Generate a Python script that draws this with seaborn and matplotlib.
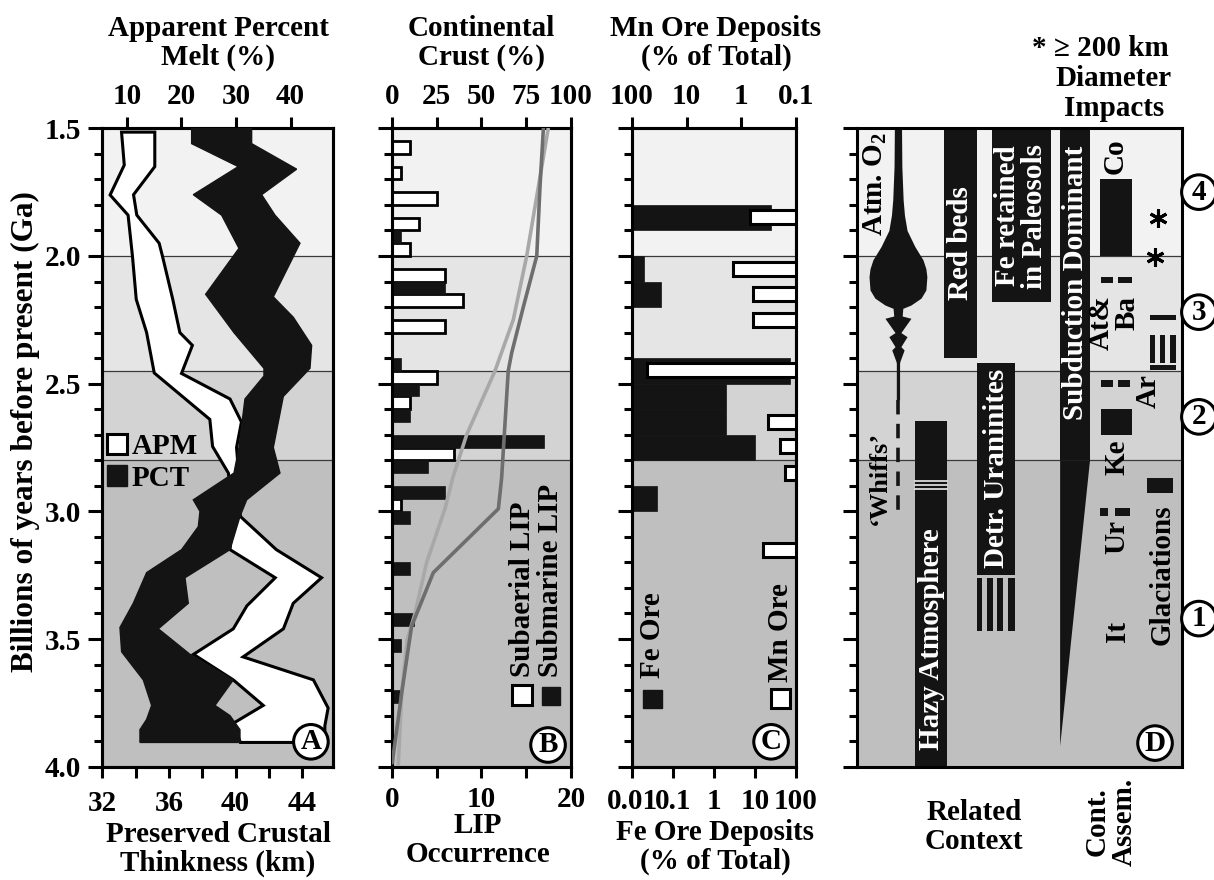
import numpy as np
import pandas as pd
import matplotlib
matplotlib.use("Agg")
import matplotlib.pyplot as plt
import seaborn as sns
from matplotlib.patches import Rectangle, Patch, Polygon
from matplotlib.ticker import FixedLocator

# ======================= DATA =======================
# Panel A - Apparent Percent Melt envelope (age Ga, %)
apm_left_age = [1.515, 1.644, 1.761, 1.84, 2.0, 2.17, 2.30, 2.458, 2.64, 2.746, 2.85, 3.02,
                3.15, 3.26, 3.37, 3.46, 3.56, 3.66, 3.76, 3.83, 3.905]
apm_left_pct = [9.0, 9.5, 6.9, 10.2, 11.0, 11.7, 13.6, 15.0, 25.2, 25.7, 28.6, 29.5,
                28.9, 37.2, 32.0, 29.5, 22.2, 29.5, 35.0, 29.5, 30.8]
apm_right_age = [1.515, 1.65, 1.76, 1.84, 1.95, 2.0, 2.17, 2.30, 2.35, 2.46, 2.56, 2.65, 2.75,
                 2.83, 3.02, 3.15, 3.26, 3.36, 3.46, 3.57, 3.66, 3.77, 3.84, 3.905]
apm_right_pct = [15.1, 15.1, 11.2, 11.8, 15.9, 16.5, 18.4, 19.7, 22.0, 20.0, 28.9, 31.0, 30.1,
                 30.4, 30.8, 37.4, 45.7, 40.5, 38.7, 31.3, 44.2, 46.9, 46.3, 46.3]
# Panel A - Preserved Crustal Thickness envelope (age Ga, km)
pct_left_age = [1.5, 1.56, 1.65, 1.76, 1.84, 1.97, 2.15, 2.30, 2.44, 2.47, 2.56, 2.75, 2.85,
                2.955, 3.0, 3.06, 3.15, 3.24, 3.36, 3.455, 3.55, 3.66, 3.76, 3.815, 3.855, 3.905]
pct_left_km = [37.36, 37.36, 40.16, 37.46, 39.16, 40.2, 38.2, 39.9, 41.7, 41.7, 40.56, 40.2, 39.9,
               37.46, 37.86, 37.76, 36.76, 34.66, 33.86, 33.06, 33.16, 34.46, 34.96, 34.66, 34.26, 34.26]
pct_right_age = [1.5, 1.56, 1.66, 1.76, 1.84, 1.95, 2.16, 2.24, 2.35, 2.44, 2.55, 2.75, 2.85,
                 2.955, 3.02, 3.15, 3.26, 3.36, 3.46, 3.56, 3.66, 3.76, 3.8, 3.855, 3.905]
pct_right_km = [40.96, 40.96, 43.66, 41.56, 42.36, 43.86, 42.26, 43.46, 44.56, 44.46, 42.86, 42.26, 42.66,
                40.66, 40.26, 39.66, 36.96, 37.16, 35.36, 37.26, 39.86, 38.76, 39.66, 40.26, 40.26]

# Panel B - LIP occurrence (bin centre age, count)
subaerial_age = [1.575, 1.675, 1.775, 1.875, 1.975, 2.075, 2.175, 2.275, 2.475, 2.575, 2.775, 2.975]
subaerial_n = [2, 1, 5, 3, 2, 6, 8, 6, 5, 2, 7, 1]
submarine_age = [1.925, 2.125, 2.425, 2.525, 2.625, 2.725, 2.825, 2.925, 3.025, 3.225, 3.425, 3.525, 3.725]
submarine_n = [1, 6, 1, 3, 2, 17, 4, 6, 2, 2, 2.5, 1, 1]
# Panel B - continental crust growth curves (%)
crust1_age = [1.5, 2.0, 2.25, 2.45, 2.70, 2.87, 2.99, 3.20, 3.40, 3.50, 3.71, 3.99]
crust1_pct = [87.3, 75.3, 67.8, 57.6, 41.8, 34.0, 29.7, 19.5, 13.0, 8.7, 5.6, 3.7]
crust2_age = [1.5, 1.73, 2.0, 2.2, 2.38, 2.45, 2.87, 2.99, 3.24, 3.45, 3.71, 3.985]
crust2_pct = [84.6, 82.7, 80.9, 73.4, 66.9, 65.0, 61.3, 59.5, 23.2, 11.1, 5.6, 0.3]

# Panel C - ore deposits (% of total)
fe_age = [1.85, 2.05, 2.15, 2.45, 2.55, 2.65, 2.75, 2.95]
fe_pct = [25, 0.02, 0.05, 70, 2, 2, 10, 0.04]
mn_age = [1.846, 2.05, 2.15, 2.25, 2.445, 2.65, 2.745, 2.85, 3.15]
mn_pct = [0.7, 1.4, 0.6, 0.62, 54, 0.32, 0.2, 0.16, 0.4]

# Panel D - Atm. O2 profile (age, relative half width)
o2_age = [1.50, 1.65, 1.78, 1.84, 1.90, 1.963, 2.015, 2.05, 2.081, 2.133, 2.165, 2.192, 2.205,
          2.235, 2.244, 2.30, 2.316, 2.355, 2.368, 2.413, 2.42, 2.563]
o2_half = [1.1, 1.2, 1.6, 2.0, 2.8, 5.2, 7.7, 8.6, 8.9, 8.6, 7.1, 4.0, 1.5,
           1.3, 4.0, 0.9, 2.8, 0.9, 1.9, 0.6, 0.5, 0.5]

# Axis tick labels
y_major = [1.5, 2.0, 2.5, 3.0, 3.5, 4.0]
y_labels = ['1.5', '2.0', '2.5', '3.0', '3.5', '4.0']
apm_ticks = [10, 20, 30, 40]
pct_ticks = [32, 34, 36, 38, 40, 42, 44]
pct_labels = ['32', '', '36', '', '40', '', '44']
lip_ticks = [0, 5, 10, 15, 20]
lip_labels = ['0', '', '10', '', '20']
crust_ticks = [0, 25, 50, 75, 100]
fe_ticks = [0.01, 0.1, 1, 10, 100]
fe_labels = ['0.01', '0.1', '1', '10', '100']
mn_ticks = [100, 10, 1, 0.1]
mn_labels = ['100', '10', '1', '0.1']

band_edges = [1.5, 2.0, 2.45, 2.8, 4.0]
band_colors = ['#f2f2f2', '#e5e5e5', '#d3d3d3', '#bfbfbf']

# ======================= STYLE =======================
sns.set_theme(style="ticks")
FS = 21
plt.rcParams['font.family'] = ['Liberation Serif', 'DejaVu Serif']
plt.rcParams['font.weight'] = 'bold'
plt.rcParams['font.size'] = FS
plt.rcParams['mathtext.default'] = 'regular'
plt.rcParams['axes.linewidth'] = 2.2
plt.rcParams['axes.edgecolor'] = 'black'
plt.rcParams['text.color'] = 'black'
plt.rcParams['axes.labelcolor'] = 'black'
plt.rcParams['xtick.color'] = 'black'
plt.rcParams['ytick.color'] = 'black'
plt.rcParams['xtick.labelcolor'] = 'black'
plt.rcParams['ytick.labelcolor'] = 'black'
plt.rcParams['hatch.linewidth'] = 2.5

W, H = 1214, 880
TOP, BOT = 128.3, 766.7
BLACK = '#141414'
fig = plt.figure(figsize=(W / 100, H / 100), dpi=100)


def px_axes(l, r):
    return [l / W, 1 - BOT / H, (r - l) / W, (BOT - TOP) / H]


def ftext(x, y, s, **kw):
    kw.setdefault('ha', 'center')
    kw.setdefault('va', 'center')
    kw.setdefault('fontsize', FS)
    kw.setdefault('fontweight', 'bold')
    kw.setdefault('color', 'black')
    fig.text(x / W, 1 - y / H, s, **kw)


y_minor = [v for v in np.round(np.arange(1.5, 4.001, 0.1), 2) if v not in y_major]


def setup_y(ax, labels=False):
    ax.set_ylim(4.0, 1.5)
    ax.yaxis.set_major_locator(FixedLocator(y_major))
    ax.yaxis.set_minor_locator(FixedLocator(y_minor))
    ax.tick_params(axis='y', which='major', direction='out', length=10, width=2.2, pad=5,
                   left=True, right=False, labelleft=labels, labelsize=FS)
    ax.tick_params(axis='y', which='minor', direction='out', length=6, width=2.2,
                   left=True, right=False)
    if labels:
        ax.set_yticklabels(y_labels)
    for s in ax.spines.values():
        s.set_linewidth(2.2)
        s.set_visible(True)


def bands(ax):
    for y0, y1, c in zip(band_edges[:-1], band_edges[1:], band_colors):
        ax.axhspan(y0, y1, color=c, zorder=0, lw=0)
    for y in band_edges[1:-1]:
        ax.axhline(y, color='#3a3a3a', lw=0.9, zorder=0.5)


def top_axis(ax):
    ax.xaxis.set_ticks_position('top')
    ax.xaxis.set_label_position('top')
    ax.tick_params(axis='x', which='both', direction='out', length=8, width=2.2, pad=5,
                   top=True, bottom=False, labeltop=True, labelbottom=False, labelsize=FS)


def bottom_axis(ax, pad=9):
    ax.xaxis.set_ticks_position('bottom')
    ax.xaxis.set_label_position('bottom')
    ax.tick_params(axis='x', which='both', direction='out', length=8, width=2.2, pad=pad,
                   top=False, bottom=True, labeltop=False, labelbottom=True, labelsize=FS)


def circ_label(ax, x, y, s, transform=None):
    ax.text(x, y, s, transform=transform or ax.transAxes, ha='center', va='center',
            fontsize=FS, fontweight='bold', zorder=10, clip_on=False,
            bbox=dict(boxstyle='circle,pad=0.13', fc='white', ec='black', lw=2.2))


# ======================= PANEL A =======================
axA = fig.add_axes(px_axes(102.3, 333.3))
bands(axA)
setup_y(axA, labels=True)
axA.set_xlim(5.47, 47.85)
apm_x = list(apm_right_pct) + list(apm_left_pct[::-1])
apm_y = list(apm_right_age) + list(apm_left_age[::-1])
axA.fill(apm_x, apm_y, facecolor='white', edgecolor='black', lw=2.2, zorder=2)

axP = axA.twiny()
axP.set_xlim(32, 45.86)
axP.set_xticks(pct_ticks)
axP.set_xticklabels(pct_labels)
bottom_axis(axP)
pct_x = list(pct_right_km) + list(pct_left_km[::-1])
pct_y = list(pct_right_age) + list(pct_left_age[::-1])
axP.fill(pct_x, pct_y, facecolor=BLACK, edgecolor=BLACK, lw=1, zorder=3)
for s in axP.spines.values():
    s.set_linewidth(2.2)

axA.set_xticks(apm_ticks)
axA.set_xticklabels([str(t) for t in apm_ticks])
top_axis(axA)

axA.legend(handles=[Patch(facecolor='white', edgecolor='black', lw=2.2),
                    Patch(facecolor=BLACK, edgecolor=BLACK)],
           labels=['APM', 'PCT'], loc='upper left', bbox_to_anchor=(0.02, 0.522),
           frameon=False, handlelength=0.7, handleheight=0.7, handletextpad=0.15,
           labelspacing=0.15, borderaxespad=0, borderpad=0, fontsize=FS)
circ_label(axP, 0.903, 0.039, 'A')

# ======================= PANEL B =======================
axB = fig.add_axes(px_axes(391.7, 571))
bands(axB)
setup_y(axB)
axB.set_xlim(0, 20)
axB.barh(subaerial_age, subaerial_n, height=0.05, left=0, color='white', edgecolor='black',
         lw=2.0, zorder=2)
axB.barh(submarine_age, submarine_n, height=0.05, left=0, color=BLACK, edgecolor=BLACK,
         lw=0.5, zorder=2)

axBt = axB.twiny()
crust_df = pd.concat([
    pd.DataFrame({'age': crust1_age, 'pct': crust1_pct, 'curve': 'c1'}),
    pd.DataFrame({'age': crust2_age, 'pct': crust2_pct, 'curve': 'c2'})])
sns.lineplot(data=crust_df, x='pct', y='age', hue='curve', palette=['#a8a8a8', '#6e6e6e'],
             sort=False, estimator=None, lw=2.6, legend=False, ax=axBt, zorder=4)
axBt.set_ylim(4.0, 1.5)
axBt.set_xlim(0, 100)
axBt.set_xticks(crust_ticks)
axBt.set_xticklabels([str(t) for t in crust_ticks])
axBt.set_xlabel('')
axBt.set_ylabel('')
top_axis(axBt)
for s in axBt.spines.values():
    s.set_linewidth(2.2)
axB.set_xticks(lip_ticks)
axB.set_xticklabels(lip_labels)
bottom_axis(axB, pad=6)

# legend B
axB.add_patch(Rectangle((0.671, 0.097), 0.111, 0.031, transform=axB.transAxes,
                        fc='white', ec='black', lw=2.2, zorder=6))
axB.add_patch(Rectangle((0.838, 0.097), 0.101, 0.028, transform=axB.transAxes,
                        fc=BLACK, ec=BLACK, lw=1, zorder=6))
axB.text(0.727, 0.1405, 'Subaerial LIP', transform=axB.transAxes, rotation=90,
         ha='center', va='bottom', fontsize=FS, zorder=6)
axB.text(0.888, 0.1405, 'Submarine LIP', transform=axB.transAxes, rotation=90,
         ha='center', va='bottom', fontsize=FS, zorder=6)
circ_label(axBt, 0.872, 0.034, 'B')

# ======================= PANEL C =======================
axC = fig.add_axes(px_axes(632, 796))
bands(axC)
setup_y(axC)
axC.set_xscale('log')
axC.set_xlim(0.01, 100)
axC.barh(fe_age, [v - 0.01 for v in fe_pct], height=0.1, left=0.01, color=BLACK,
         edgecolor=BLACK, lw=0.5, zorder=2)

axCt = axC.twiny()
axCt.set_xscale('log')
axCt.set_xlim(100, 0.1)
axCt.barh(mn_age, [v - 0.1 for v in mn_pct], height=0.055, left=0.1, color='white',
          edgecolor='black', lw=2.2, zorder=3)
axCt.set_xticks(mn_ticks)
axCt.set_xticklabels(mn_labels)
axCt.xaxis.set_minor_locator(FixedLocator([]))
top_axis(axCt)
for s in axCt.spines.values():
    s.set_linewidth(2.2)
axC.set_xticks(fe_ticks)
axC.set_xticklabels(fe_labels)
axC.xaxis.set_minor_locator(FixedLocator([]))
bottom_axis(axC, pad=7)

axCt.add_patch(Rectangle((0.067, 0.092), 0.116, 0.028, transform=axCt.transAxes,
                         fc=BLACK, ec=BLACK, lw=1, zorder=6))
axCt.add_patch(Rectangle((0.848, 0.092), 0.116, 0.030, transform=axCt.transAxes,
                         fc='white', ec='black', lw=2.2, zorder=6))
axCt.text(0.122, 0.139, 'Fe Ore', transform=axCt.transAxes, rotation=90,
          ha='center', va='bottom', fontsize=FS, zorder=6)
axCt.text(0.905, 0.133, 'Mn Ore', transform=axCt.transAxes, rotation=90,
          ha='center', va='bottom', fontsize=FS, zorder=6)
circ_label(axCt, 0.848, 0.039, 'C')

# ======================= PANEL D =======================
axD = fig.add_axes(px_axes(857, 1182))
bands(axD)
setup_y(axD)
axD.set_xlim(0, 100)
axD.set_xticks([])


def rect(x0, x1, y0, y1, **kw):
    kw.setdefault('fc', BLACK)
    kw.setdefault('ec', 'none')
    axD.add_patch(Rectangle((x0, y0), x1 - x0, y1 - y0, zorder=kw.pop('zorder', 2), **kw))


def dtext(x, y, s, color='black', **kw):
    kw.setdefault('ha', 'center')
    kw.setdefault('va', 'center')
    kw.setdefault('fontsize', FS)
    axD.text(x, y, s, rotation=90, color=color, fontweight='bold', zorder=5, **kw)


# Atmospheric O2
o2c = 12.6
axD.fill_betweenx(o2_age, [o2c - h for h in o2_half], [o2c + h for h in o2_half],
                  color=BLACK, lw=0, zorder=2)
axD.plot([o2c, o2c], [2.563, 3.0], color=BLACK, lw=2.6, ls=(0, (4, 2.6)), zorder=2)
dtext(5.8, 1.72, 'Atm. O$_2$')
dtext(6.8, 2.87, '\u2018Whiffs\u2019', fontsize=FS - 2)

# Hazy atmosphere
rect(17.8, 27.7, 2.645, 4.0)
for yy in [2.880, 2.897, 2.914]:
    axD.plot([17.8, 27.7], [yy, yy], color='white', lw=1.1, zorder=3)
dtext(22.8, 3.50, 'Hazy Atmosphere', color='white')

# Red beds
rect(26.8, 36.9, 1.5, 2.40)
dtext(31.7, 1.95, 'Red beds', color='white')

# Fe retained in paleosols
rect(41.5, 59.7, 1.5, 2.18)
dtext(50.4, 1.844, 'Fe retained\nin Paleosols', color='white', linespacing=1.0)

# Detrital uraninites
rect(36.9, 48.6, 2.42, 3.25)
for x0, x1 in [(36.9, 38.5), (40.0, 41.8), (43.1, 44.9), (46.5, 48.6)]:
    rect(x0, x1, 3.26, 3.47)
dtext(42.8, 2.83, 'Detr. Uraninites', color='white')

# Subduction
rect(62.5, 71.7, 1.5, 2.8)
axD.add_patch(Polygon([[62.5, 2.8], [71.7, 2.8], [62.5, 3.92]], closed=True, fc=BLACK,
                      ec='none', zorder=2))
dtext(67.1, 2.107, 'Subduction Dominant', color='white')

# Continental assembly
rect(74.8, 84.6, 1.70, 2.0)
dtext(79.4, 1.61, 'Co')
rect(75.1, 78.8, 2.083, 2.107)
rect(80.3, 84.6, 2.083, 2.107)
dtext(79.1, 2.155, 'At&\nBa', va='top', multialignment='right', linespacing=0.95)
rect(75.1, 78.8, 2.485, 2.512)
rect(80.3, 84.0, 2.485, 2.512)
dtext(89.5, 2.53, 'Ar')
rect(75.1, 84.6, 2.60, 2.70)
dtext(80.0, 2.79, 'Ke')
rect(74.8, 77.2, 2.985, 3.02)
rect(79.5, 83.9, 2.985, 3.02)
dtext(80.0, 3.10, 'Ur')
dtext(80.0, 3.47, 'It')
axD.add_patch(Rectangle((74.8, 3.53), 9.8, 0.12, fc='none', ec='none', hatch='\\\\\\',
                        zorder=2))

# Glaciations
rect(90.2, 98.2, 2.232, 2.25)
for x0, x1 in [(90.2, 91.8), (93.2, 94.8), (96.3, 98.0)]:
    rect(x0, x1, 2.31, 2.42)
rect(90.2, 98.2, 2.425, 2.447)
rect(89.2, 97.2, 2.87, 2.93)
dtext(93.8, 3.25, 'Glaciations')

# impacts
axD.plot([92.6, 91.7], [1.852, 2.003], ls='none', marker=(6, 2, 0), ms=13, mew=2.2,
         color='black', zorder=5)

circ_label(axD, 0.917, 0.037, 'D')
for yy, s in zip([1.75, 2.22, 2.63, 3.42], ['4', '3', '2', '1']):
    circ_label(axD, 105.2, yy, s, transform=axD.transData)

# ======================= FIGURE TEXT =======================
ftext(25.5, 432, 'Billions of years before present (Ga)', rotation=90, fontsize=22.5)
ftext(218, 43, 'Apparent Percent\nMelt (%)', linespacing=1.05)
ftext(481, 43, 'Continental\nCrust (%)', linespacing=1.05)
ftext(716, 43, 'Mn Ore Deposits\n(% of Total)', linespacing=1.05)
ftext(218, 849, 'Preserved Crustal\nThinkness (km)', linespacing=1.05)
ftext(478, 840, 'LIP\nOccurrence', linespacing=1.05)
ftext(715, 847, 'Fe Ore Deposits\n(% of Total)', linespacing=1.05)
ftext(1100, 49, '* \u2265 200 km')
ftext(1114, 79, 'Diameter')
ftext(1114, 108, 'Impacts')
ftext(974, 827, 'Related\nContext', linespacing=1.05)
ftext(1111, 822, 'Cont.\nAssem.', rotation=90, linespacing=1.0)

fig.savefig('out.png', dpi=100)
